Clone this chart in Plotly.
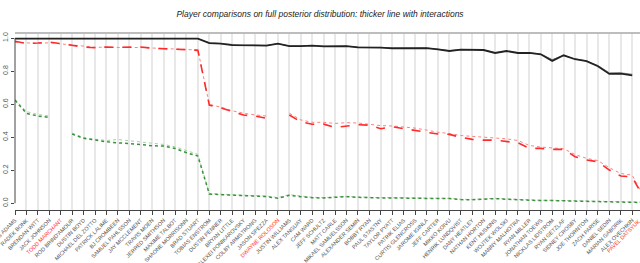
import plotly.graph_objects as go

players = ["CRAIG ADAMS", "RADEK BONK", "BRENDAN WITT", "JACK JOHNSON", "TODD MARCHANT",
           "ROD BRIND'AMOUR", "DUSTIN BOYD", "MICHAEL DEL ZOTTO", "PATRICK LALIME", "BJ CROMBEEN",
           "SAMUEL PAHLSSON", "JAY MCCLEMENT", "TRAVIS MOEN", "JERRED SMITHSON", "MAXIME TALBOT",
           "SHAONE MORRISONN", "BRAD STUART", "TOBIAS ENSTROM", "DUSTIN PENNER", "BRYAN LITTLE",
           "ALEXEI PONIKAROVSKY", "COLBY ARMSTRONG", "JASON SPEZZA", "DWAYNE ROLOSON", "JUSTIN WILLIAMS",
           "ALEX TANGUAY", "CAM WARD", "JEFF SCHULTZ", "MATT CARLE", "MIKAEL SAMUELSSON",
           "ALEXANDER SEMIN", "BOBBY RYAN", "PAUL STASTNY", "TAYLOR PYATT", "PATRIK ELIAS",
           "CURTIS GLENCROSS", "JAROME IGINLA", "JEFF CARTER", "MIKKO KOIVU", "HENRIK LUNDQVIST",
           "DANY HEATLEY", "NATHAN HORTON", "KENT HUSKINS", "WOJTEK WOLSKI", "MANNY MALHOTRA",
           "RYAN MILLER", "JONATHAN TOEWS", "NICKLAS LIDSTROM", "RYAN GETZLAF", "SIDNEY CROSBY",
           "JOE THORNTON", "ZACH PARISE", "DANIEL SEDIN", "MARIAN GABORIK", "ALEX OVECHKIN",
           "PAVEL DATSYUK"]
red_players = ["TODD MARCHANT", "DWAYNE ROLOSON", "PAVEL DATSYUK"]
marked_player = "DWAYNE ROLOSON"

black_int = [0.997, 0.997, 0.997, 0.997, 0.997, 0.997, 0.997, 0.997, 0.997, 0.997,
             0.997, 0.997, 0.997, 0.997, 0.997, 0.997, 0.997, 0.970, 0.967, 0.958,
             0.956, 0.956, 0.955, 0.967, 0.952, 0.952, 0.955, 0.950, 0.952, 0.952,
             0.944, 0.944, 0.942, 0.938, 0.938, 0.938, 0.940, 0.932, 0.922, 0.930,
             0.928, 0.928, 0.910, 0.922, 0.910, 0.910, 0.902, 0.862, 0.896, 0.872,
             0.860, 0.830, 0.783, 0.785, 0.775, None]
black_noint = [0.997, 0.997, 0.997, 0.997, 0.997, 0.997, 0.997, 0.997, 0.997, 0.997,
               0.997, 0.997, 0.997, 0.997, 0.997, 0.997, 0.997, 0.972, 0.968, 0.960,
               0.957, 0.957, 0.956, 0.966, 0.953, 0.953, 0.955, 0.951, 0.952, 0.951,
               0.945, 0.944, 0.943, 0.939, 0.939, 0.939, 0.940, 0.933, 0.924, 0.930,
               0.929, 0.928, 0.912, 0.921, 0.912, 0.911, 0.904, 0.870, 0.894, 0.874,
               0.862, 0.834, 0.790, 0.790, 0.781, None]
red_int = [0.981, 0.967, 0.970, 0.976, 0.967, 0.956, 0.946, 0.942, 0.946, 0.944,
           0.944, 0.946, 0.939, 0.937, 0.935, 0.930, 0.926, 0.594, 0.578, 0.554,
           0.534, 0.528, 0.514, None, 0.534, 0.493, 0.478, 0.479, 0.459, 0.469,
           0.475, 0.473, 0.451, 0.463, 0.453, 0.443, 0.429, 0.419, 0.417, 0.399,
           0.387, 0.382, 0.382, 0.376, 0.366, 0.332, 0.332, 0.326, 0.326, 0.282,
           0.262, 0.251, 0.201, 0.165, 0.159, 0.032]
red_noint = [0.975, 0.972, 0.968, 0.972, 0.965, 0.955, 0.948, 0.945, 0.944, 0.944,
             0.945, 0.943, 0.940, 0.938, 0.934, 0.931, 0.928, 0.598, 0.582, 0.560,
             0.545, 0.535, 0.528, None, 0.545, 0.505, 0.490, 0.490, 0.483, 0.488,
             0.486, 0.478, 0.470, 0.468, 0.462, 0.455, 0.443, 0.430, 0.422, 0.410,
             0.405, 0.400, 0.398, 0.390, 0.380, 0.350, 0.340, 0.335, 0.330, 0.295,
             0.272, 0.258, 0.215, 0.180, 0.170, 0.040]
green_int = [0.624, 0.544, 0.528, 0.520, None, 0.419, 0.393, 0.383, 0.372, 0.366,
             0.362, 0.356, 0.348, 0.346, 0.332, 0.306, 0.286, 0.056, 0.052, 0.050,
             0.044, 0.042, 0.040, 0.030, 0.048, 0.040, 0.033, 0.032, 0.036, 0.040,
             0.036, 0.032, 0.032, 0.032, 0.030, 0.032, 0.030, 0.028, 0.028, 0.022,
             0.021, 0.024, 0.028, 0.024, 0.020, 0.016, 0.016, 0.016, 0.014, 0.014,
             0.012, 0.010, 0.008, 0.006, 0.006, 0.004]
green_noint = [0.630, 0.555, 0.538, 0.528, None, 0.425, 0.398, 0.388, 0.380, 0.386,
               0.378, 0.372, 0.364, 0.356, 0.342, 0.318, 0.296, 0.058, 0.054, 0.052,
               0.048, 0.046, 0.044, 0.034, 0.052, 0.044, 0.036, 0.034, 0.038, 0.042,
               0.038, 0.034, 0.034, 0.034, 0.032, 0.034, 0.032, 0.030, 0.030, 0.024,
               0.023, 0.026, 0.030, 0.026, 0.022, 0.018, 0.018, 0.018, 0.016, 0.016,
               0.014, 0.012, 0.010, 0.008, 0.008, 0.006]

y_ticks = [0.0, 0.2, 0.4, 0.6, 0.8, 1.0]
title_text = "Player comparisons on full posterior distribution: thicker line with interactions"

FONT = "Liberation Sans, Arial, Helvetica, sans-serif"
W, H = 640, 263
ML, MR, MT, MB = 15, 0, 33, 53
xs = list(range(len(players)))
x_max = 54.68
y_lo, y_hi = -0.041, 1.031
LBL = 5.5

fig = go.Figure()

def add(y, color, width, dash):
    fig.add_trace(go.Scatter(x=xs, y=y, mode="lines", connectgaps=False,
                             line=dict(color=color, width=width, dash=dash),
                             hoverinfo="skip", showlegend=False))

add(green_noint, "#9fd49f", 1.0, "dot")
add(red_noint, "#ff8080", 1.0, "dot")
add(black_noint, "#8a8a8a", 1.0, "solid")
add(green_int, "#3c8f3c", 1.5, "dot")
add(red_int, "#ff2a2a", 1.6, "dash")
add(black_int, "#222222", 1.8, "solid")

ticktext = []
for p in players:
    if p in red_players:
        ticktext.append('<span style="color:#ff3030">' + p + '</span>')
    else:
        ticktext.append(p)

mi = players.index(marked_player)
fig.add_shape(type="line", xref="x", yref="paper", x0=mi, x1=mi, y0=0, y1=1,
              line=dict(color="#ffb0b0", width=1, dash="dot"), layer="below")
fig.add_shape(type="line", xref="paper", yref="paper", x0=0, x1=1, y0=1, y1=1,
              line=dict(color="#bdbdbd", width=2))
fig.add_shape(type="line", xref="paper", yref="y", x0=0, x1=0, y0=y_ticks[0], y1=y_ticks[-1],
              line=dict(color="#444444", width=1))

last = len(players) - 1
fig.add_annotation(xref="paper", yref="paper", x=last / x_max, y=0, yshift=-5,
                   text=players[last], showarrow=False, textangle=-45,
                   xanchor="right", yanchor="top",
                   font=dict(family=FONT, size=LBL, color="#ff3030"))

fig.update_layout(
    width=W, height=H,
    margin=dict(l=ML, r=MR, t=MT, b=MB, pad=0),
    paper_bgcolor="white", plot_bgcolor="white",
    title=dict(text="<i>" + title_text + "</i>", x=0.5, xref="container", xanchor="center",
               y=1 - 14 / H, yref="container", yanchor="middle",
               font=dict(family=FONT, size=8.5, color="#222222")),
    xaxis=dict(range=[-0.001, x_max], tickmode="array", tickvals=xs[:last], ticktext=ticktext[:last],
               tickangle=-45, tickfont=dict(family=FONT, size=LBL, color="#555555"),
               ticklabeloverflow="allow",
               showgrid=True, gridcolor="#e8e8e8", gridwidth=1.5, zeroline=False,
               showline=True, linecolor="#444444", linewidth=1,
               ticks="outside", ticklen=4, tickcolor="#444444", automargin=False),
    yaxis=dict(range=[y_lo, y_hi], tickmode="array", tickvals=y_ticks,
               ticktext=["%.1f" % v for v in y_ticks], tickangle=-90,
               tickfont=dict(family=FONT, size=7, color="#555555"),
               ticklabeloverflow="allow",
               showgrid=False, zeroline=False, showline=False,
               ticks="outside", ticklen=3, tickcolor="#444444", automargin=False),
)

fig.write_html("out.html", config={"displayModeBar": False},
               post_script="document.body.style.margin='0';document.body.style.padding='0';")
